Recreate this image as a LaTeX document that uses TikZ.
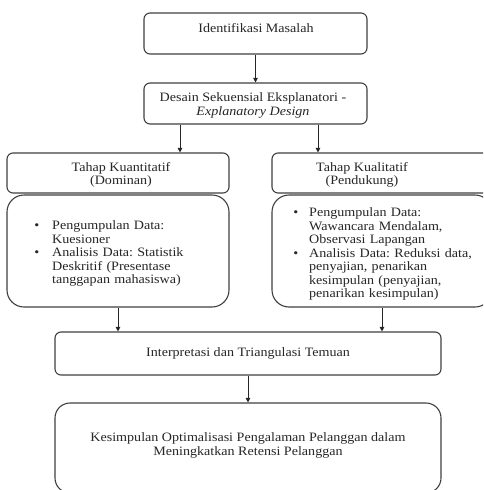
\documentclass[tikz,border=0pt]{standalone}
\usepackage{fontspec}
\setmainfont[FakeStretch=1.1]{Liberation Serif}
\usetikzlibrary{arrows.meta}
\frenchspacing
\tikzset{
  box/.style={draw=black!75, line width=1.1pt, rounded corners=6pt, inner sep=0pt},
  bigbox/.style={box, rounded corners=17pt},
  txt/.style={text=black!85, font=\fontsize{12.8}{13.5}\selectfont, align=center, inner sep=0pt},
  ltxt/.style={text=black!85, font=\fontsize{12.8}{13.5}\selectfont, align=left, inner sep=0pt, anchor=north west},
  arr/.style={draw=black!85, line width=1pt, -{Triangle[length=4.5pt,width=4.5pt]}}
}
\newcommand{\blist}[1]{\begin{list}{\textbullet}{\setlength{\leftmargin}{20pt}\setlength{\labelwidth}{6pt}\setlength{\labelsep}{13pt}\setlength{\itemsep}{0pt}\setlength{\topsep}{0pt}\setlength{\parsep}{0pt}\setlength{\partopsep}{0pt}}#1\end{list}}
\newcommand{\rlist}[1]{\begin{list}{\textbullet}{\setlength{\leftmargin}{17pt}\setlength{\labelwidth}{6pt}\setlength{\labelsep}{11pt}\setlength{\itemsep}{0pt}\setlength{\topsep}{0pt}\setlength{\parsep}{0pt}\setlength{\partopsep}{0pt}}#1\end{list}}
\begin{document}
\begin{tikzpicture}[x=1pt,y=-1pt]
\useasboundingbox (0,0) rectangle (483,490);
\clip (0,0) rectangle (483,490);
\fill[white] (0,0) rectangle (483,490);
% boxes
\node[box, minimum width=223pt, minimum height=41pt] (b1) at (255.5,33.5) {};
\node[box, minimum width=223pt, minimum height=41pt] (b2) at (255.5,103.5) {};
\node[box, minimum width=222pt, minimum height=40pt] (b3) at (118,173) {};
\node[bigbox, minimum width=222pt, minimum height=112pt] (b4) at (118,251) {};
\node[box, minimum width=220pt, minimum height=40pt] (b6) at (382,173) {};
\node[bigbox, minimum width=220pt, minimum height=112pt] (b7) at (382,251) {};
\node[box, minimum width=386pt, minimum height=43pt] (b5) at (248,353.5) {};
\node[bigbox, rounded corners=15pt, minimum width=386pt, minimum height=90pt] (b8) at (248,448) {};
% texts
\node[txt] (t1) at (256,28) {Identifikasi Masalah};
\node[txt] (t2) at (253,105.5) {Desain Sekuensial Eksplanatori -\\\textit{Explanatory Design}};
\node[txt] (t3) at (121,175) {Tahap Kuantitatif\\(Dominan)};
\node[txt] (t6) at (362,175) {Tahap Kualitatif\\(Pendukung)};
\node[ltxt, text width=160pt] (t4) at (32,216) {\blist{\item Pengumpulan Data:\newline Kuesioner
\item Analisis Data: Statistik\newline Deskritif (Presentase\newline tanggapan mahasiswa)}};
\node[ltxt, text width=190pt] (t7) at (292,203) {\rlist{\item Pengumpulan Data:\newline Wawancara Mendalam,\newline Observasi Lapangan
\item Analisis Data: Reduksi data,\newline penyajian, penarikan\newline kesimpulan (penyajian,\newline penarikan kesimpulan)}};
\node[txt] (t5) at (248,353) {Interpretasi dan Triangulasi Temuan};
\node[txt] (t8) at (248,445.5) {Kesimpulan Optimalisasi Pengalaman Pelanggan dalam\\Meningkatkan Retensi Pelanggan};
% connectors
\coordinate (xl) at (180,0);
\coordinate (xr) at (318,0);
\draw[arr] (b1.south) -- (b2.north);
\draw[arr] (b2.south -| xl) -- (b3.north -| xl);
\draw[arr] (b2.south -| xr) -- (b6.north -| xr);
\draw[arr] (b4.south) -- (b4.south |- b5.north);
\draw[arr] (b7.south) -- (b7.south |- b5.north);
\draw[arr] (b5.south) -- (b8.north);
\end{tikzpicture}
\end{document}
